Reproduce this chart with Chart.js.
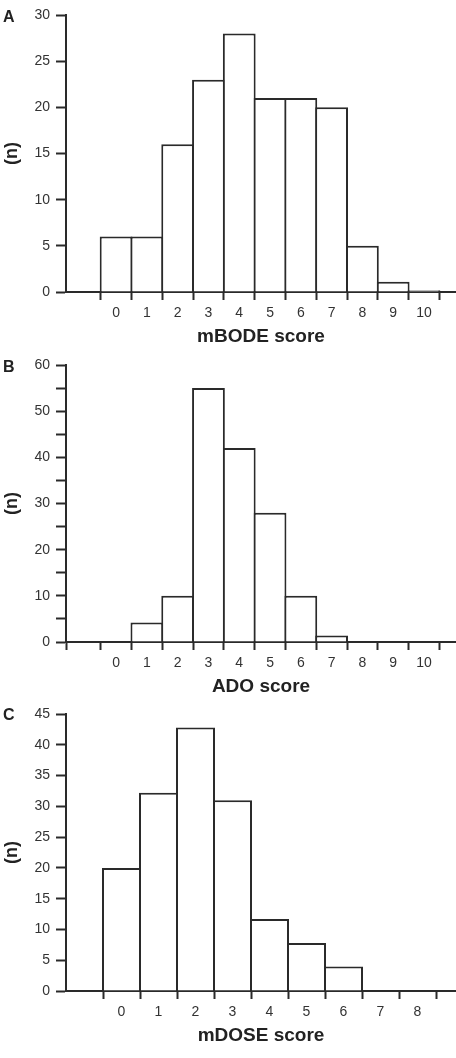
<!DOCTYPE html>
<html>
<head>
<meta charset="utf-8">
<script src="https://cdn.jsdelivr.net/npm/chart.js@4.4.1/dist/chart.umd.min.js"></script>
<style>
  body { margin: 0; background: #fff; }
  .panel { position: absolute; left: 0; width: 456px; height: 350px; }
  .letter { position: absolute; left: 3px; font: bold 16px "Liberation Sans", Arial, sans-serif; line-height: 16px; color: #222; }
</style>
</head>
<body>
<div class="panel" style="top:0"><canvas id="chartA" width="456" height="350"></canvas></div>
<div class="panel" style="top:350px"><canvas id="chartB" width="456" height="350"></canvas></div>
<div class="panel" style="top:699px"><canvas id="chartC" width="456" height="350"></canvas></div>
<div class="letter" style="top:9px">A</div>
<div class="letter" style="top:359px">B</div>
<div class="letter" style="top:707px">C</div>
<script>
// scores (bin centres) and counts
const scoresA = [0, 1, 2, 3, 4, 5, 6, 7, 8, 9, 10];
const countsA = [6, 6, 16, 23, 28, 21, 21, 20, 5, 1.1, 0.2];

const scoresB = [0, 1, 2, 3, 4, 5, 6, 7, 8, 9, 10];
const countsB = [0, 4.2, 10, 55, 42, 28, 10, 1.4, 0, 0, 0];

const scoresC = [0, 1, 2, 3, 4, 5, 6, 7, 8];
const countsC = [20, 32.2, 42.8, 31, 11.7, 7.8, 4, 0, 0];

const titleA = 'mBODE score';
const titleB = 'ADO score';
const titleC = 'mDOSE score';

const ink = '#2a2a2a';
const FONT = '"Liberation Sans", Arial, sans-serif';

function histogram(id, scores, counts, xTitle, yMax, yLabelEvery, xMin, xMax, edgeTickAtAxis) {
  const pts = scores.map((s, i) => ({ x: s, y: counts[i] }));
  const edges = [];
  if (edgeTickAtAxis) edges.push(xMin);
  for (let i = 0; i <= scores.length; i++) edges.push(scores[0] - 0.5 + i);
  const areaWidth = 390;
  const binPx = areaWidth / (xMax - xMin);

  new Chart(document.getElementById(id).getContext('2d'), {
    type: 'bar',
    data: {
      datasets: [{
        data: pts,
        backgroundColor: '#fff',
        borderColor: ink,
        borderWidth: 2,
        borderSkipped: 'start',
        inflateAmount: 0,
        barPercentage: 1 + 2 / binPx,
        categoryPercentage: 1,
        xAxisID: 'x'
      }]
    },
    options: {
      responsive: false,
      animation: false,
      layout: { padding: { top: 15, left: 0, right: 0, bottom: 0 } },
      plugins: { legend: { display: false }, tooltip: { enabled: false } },
      scales: {
        x: {
          type: 'linear',
          position: 'bottom',
          min: xMin,
          max: xMax,
          offset: false,
          weight: 0,
          afterBuildTicks: s => { s.ticks = edges.map(v => ({ value: v })); },
          ticks: { display: false },
          grid: { offset: false, drawOnChartArea: false, drawTicks: true, tickLength: 8, tickColor: ink, tickWidth: 2 },
          border: { display: true, color: ink, width: 2 }
        },
        x2: {
          type: 'linear',
          position: 'bottom',
          min: xMin,
          max: xMax,
          offset: false,
          weight: 1,
          afterBuildTicks: s => { s.ticks = scores.map(v => ({ value: v })); },
          afterFit: s => { s.height = 50; },
          ticks: { color: '#333', font: { family: FONT, size: 14 }, padding: 5, maxRotation: 0, autoSkip: false },
          grid: { offset: false, display: false, drawTicks: false },
          border: { display: false },
          title: { display: true, text: xTitle, color: '#222', font: { family: FONT, size: 19, weight: 'bold' }, padding: { top: 0, bottom: 2 } }
        },
        y: {
          min: 0,
          max: yMax,
          afterFit: s => { s.width = 66; },
          ticks: {
            stepSize: 5,
            color: '#333',
            padding: 6,
            font: { family: FONT, size: 14 },
            callback: v => (v % yLabelEvery === 0 ? v : '')
          },
          grid: { drawOnChartArea: false, drawTicks: true, tickLength: 10, tickColor: ink, tickWidth: 2 },
          border: { display: true, color: ink, width: 2 },
          title: { display: true, text: '(n)', color: '#222', font: { family: FONT, size: 18, weight: 'bold' }, padding: { top: 1, bottom: 0 } }
        }
      }
    }
  });
}

histogram('chartA', scoresA, countsA, titleA, 30, 5, -1.627, 11.04, false);
histogram('chartB', scoresB, countsB, titleB, 60, 10, -1.627, 11.04, true);
histogram('chartC', scoresC, countsC, titleC, 45, 5, -1.5, 9.04, false);
</script>
</body>
</html>
